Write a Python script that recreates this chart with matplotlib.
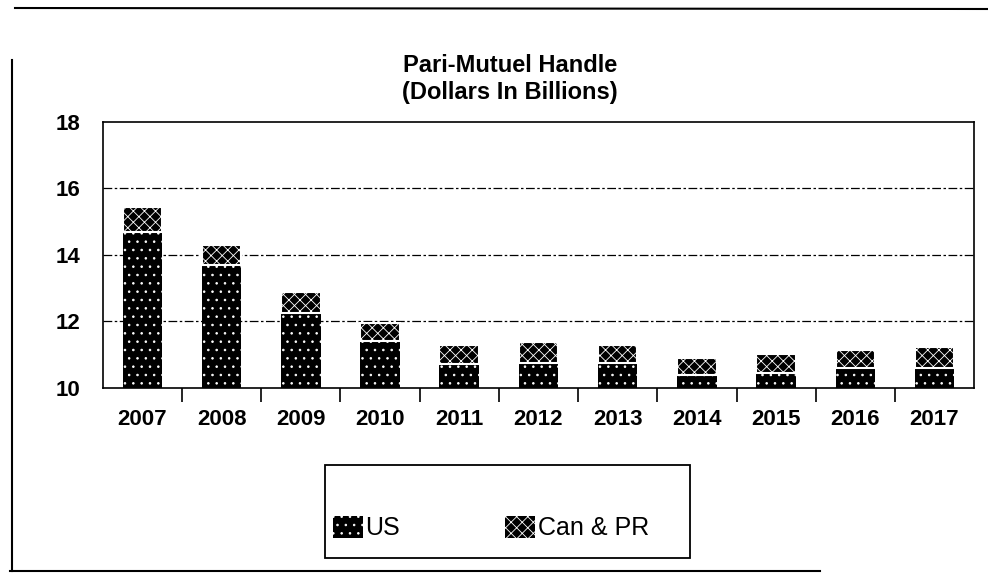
import numpy as np
import matplotlib
matplotlib.use('Agg')
import matplotlib.pyplot as plt
from matplotlib.patches import Patch, Rectangle
from matplotlib.lines import Line2D

plt.rcParams['font.family'] = ['Liberation Sans', 'DejaVu Sans']
plt.rcParams['hatch.linewidth'] = 0.6

years = ['2007', '2008', '2009', '2010', '2011', '2012',
         '2013', '2014', '2015', '2016', '2017']
us = [14.70, 13.70, 12.25, 11.40, 10.72, 10.75, 10.75, 10.40, 10.45, 10.60, 10.60]
can_pr = [0.73, 0.59, 0.63, 0.55, 0.57, 0.63, 0.54, 0.50, 0.57, 0.54, 0.63]
y_ticks = [10, 12, 14, 16, 18]

fig = plt.figure(figsize=(9.88, 5.78), dpi=100)
ax = fig.add_axes([0.104, 0.329, 0.882, 0.460])

x = np.arange(len(years))
ax.bar(x, us, width=0.5, color='black', edgecolor='white', linewidth=0,
       hatch='..', zorder=3)
ax.bar(x, can_pr, bottom=us, width=0.5, color='black', edgecolor='white',
       linewidth=1.5, hatch='xxx', zorder=3)

ax.set_xlim(-0.5, len(years) - 0.5)
ax.set_ylim(10, 18)
ax.set_yticks(y_ticks)
ax.set_yticklabels([str(t) for t in y_ticks], fontsize=16, fontweight='bold')
ax.set_xticks(x)
ax.set_xticklabels(years, fontsize=16, fontweight='bold')
ax.set_xticks(np.arange(len(years) - 1) + 0.5, minor=True)
ax.tick_params(axis='y', length=0, pad=16)
ax.tick_params(axis='x', which='major', length=0, pad=15)
ax.tick_params(axis='x', which='minor', length=10, width=1.2, direction='out')

for v in y_ticks[1:-1]:
    ax.axhline(v, color='black', lw=0.9, linestyle=(0, (7, 2, 2, 2)), zorder=1)
for s in ax.spines.values():
    s.set_linewidth(1.2)

fig.text(0.516, 1 - 66 / 578, 'Pari-Mutuel Handle', ha='center', va='center',
         fontsize=17, fontweight='bold')
fig.text(0.516, 1 - 92 / 578, '(Dollars In Billions)', ha='center', va='center',
         fontsize=17, fontweight='bold')

# scanned page frame
fig.add_artist(Line2D([15 / 988, 1.0], [1 - 8 / 578, 1 - 9 / 578], color='black', lw=1.5))
fig.add_artist(Line2D([12 / 988, 12 / 988], [1 - 60 / 578, 1 - 571 / 578], color='black', lw=1.5))
fig.add_artist(Line2D([10 / 988, 820 / 988], [1 - 571 / 578, 1 - 571 / 578], color='black', lw=1.5))

# legend box
fig.add_artist(Rectangle((325 / 988, 1 - 558 / 578), 365 / 988, 93 / 578,
                         transform=fig.transFigure, fill=False, lw=1.3, ec='black'))
handles = [Patch(facecolor='black', edgecolor='white', hatch='..', lw=0),
           Patch(facecolor='black', edgecolor='white', hatch='xxx', lw=0)]
fig.legend(handles, ['US', 'Can & PR'], loc='center left',
           bbox_to_anchor=(333 / 988, 1 - 528 / 578), ncol=2, frameon=False,
           fontsize=18, handlelength=1.2, handleheight=1.0, handletextpad=0.1,
           columnspacing=4.2, borderpad=0, borderaxespad=0)

fig.savefig('out.png', dpi=100)
